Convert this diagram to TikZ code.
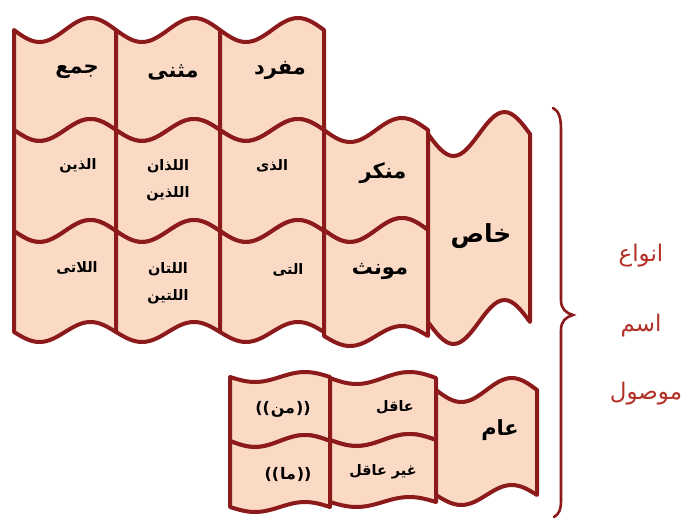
\documentclass[tikz,border=0pt]{standalone}
\usepackage{fontspec}
\newfontfamily\arabicfont[Script=Arabic]{DejaVu Sans}
\newfontfamily\latinfont{DejaVu Sans}
\TeXXeTstate=1
\definecolor{edge}{RGB}{140,26,26}
\definecolor{cellfill}{RGB}{250,218,196}
\definecolor{labelred}{RGB}{178,48,38}
% xl xr ytop atop ybot abot
\newcommand\wavecell[6]{%
  \path[cell] (#1,#3) sin ({#1+0.25*(#2-#1)},{#3+#4}) cos ({#1+0.5*(#2-#1)},#3)
    sin ({#1+0.75*(#2-#1)},{#3-#4}) cos (#2,#3)
    -- (#2,#5) sin ({#1+0.75*(#2-#1)},{#5-#6}) cos ({#1+0.5*(#2-#1)},#5)
    sin ({#1+0.25*(#2-#1)},{#5+#6}) cos (#1,#5) -- cycle;}
\newcommand\parenword[1]{{\latinfont\bfseries((}\kern1pt{\arabicfont\bfseries #1}\kern1pt{\latinfont\bfseries))}}
\begin{document}
\begin{tikzpicture}[x=1bp,y=-1bp,
  cell/.style={fill=cellfill,draw=edge,line width=4bp,line join=round},
  hdr/.style={font=\arabicfont\bfseries\fontsize{21}{24}\selectfont,text=black,inner sep=0pt},
  bighdr/.style={font=\arabicfont\bfseries\fontsize{25}{28}\selectfont,text=black,inner sep=0pt},
  nm/.style={font=\arabicfont\bfseries\fontsize{14.5}{27}\selectfont,text=black,align=center,inner sep=0pt},
  pw/.style={font=\fontsize{16}{20}\selectfont,text=black,inner sep=0pt},
  lbl/.style={font=\arabicfont\fontsize{23}{26}\selectfont,text=labelred,inner sep=0pt},
  bracestyle/.style={draw=edge,line width=2.6bp,line cap=round}]
\useasboundingbox (0,0) rectangle (698,518);
% upper grid
\wavecell{14}{116}{30}{12}{130}{11}
\wavecell{116}{220}{30}{12}{130}{11}
\wavecell{220}{324}{30}{12}{130}{11}
\wavecell{14}{116}{130}{11}{231}{11}
\wavecell{116}{220}{130}{11}{231}{11}
\wavecell{220}{324}{130}{11}{231}{11}
\wavecell{14}{116}{231}{11}{332}{10}
\wavecell{116}{220}{231}{11}{332}{10}
\wavecell{220}{324}{231}{11}{332}{10}
\wavecell{324}{428}{130}{12}{230}{12}
\wavecell{324}{428}{230}{12}{336}{10}
\wavecell{428}{530}{134}{22}{322}{22}
% lower group
\wavecell{230}{330}{377}{5}{441}{6}
\wavecell{230}{330}{441}{6}{507}{5}
\wavecell{330}{436}{378}{6}{440}{6}
\wavecell{330}{436}{440}{6}{502}{5}
\wavecell{436}{537}{390}{12}{495}{10}
% brace
\coordinate (bt) at (553,108);
\coordinate (bm) at (573,315);
\coordinate (bb) at (554,517);
\draw[bracestyle] (bt) .. controls (559,111) and (561,118) .. (561,130) -- (561,300)
  .. controls (561,309) and (566,313) .. (bm)
  .. controls (566,317) and (561,321) .. (561,330) -- (561,500)
  .. controls (561,510) and (559,514) .. (bb);
% texts
\node[hdr] (jam) at (77,72) {\beginR جمع\endR};
\node[hdr] (muth) at (173,72) {\beginR مثنى\endR};
\node[hdr] (mufr) at (280,70) {\beginR مفرد\endR};
\node[nm] (alladhina) at (78,166) {\beginR الذين\endR};
\node[nm] (alladhan) at (168,180) {\beginR اللذان\endR\\\beginR اللذين\endR};
\node[nm] (alladhi) at (272,166) {\beginR الذى\endR};
\node[hdr] (munak) at (383,173) {\beginR منكر\endR};
\node[bighdr] (khas) at (481,236) {\beginR خاص\endR};
\node[hdr] (muan) at (380,271) {\beginR مونث\endR};
\node[nm] (allati) at (77,268) {\beginR اللاتى\endR};
\node[nm] (allatan) at (168,283) {\beginR اللتان\endR\\\beginR اللتين\endR};
\node[nm] (allati2) at (288,270) {\beginR التى\endR};
\node[lbl] (anwa) at (641,256) {\beginR انواع\endR};
\node[lbl] (ism) at (641,326) {\beginR اسم\endR};
\node[lbl] (mawsul) at (646,394) {\beginR موصول\endR};
\node[pw] (man) at (283,409) {\parenword{من}};
\node[pw] (ma) at (288,474) {\parenword{ما}};
\node[nm] (aqil) at (395,407) {\beginR عاقل\endR};
\node[nm] (ghayr) at (383,472) {\beginR غير عاقل\endR};
\node[hdr] (aam) at (500,430) {\beginR عام\endR};
\end{tikzpicture}
\end{document}
